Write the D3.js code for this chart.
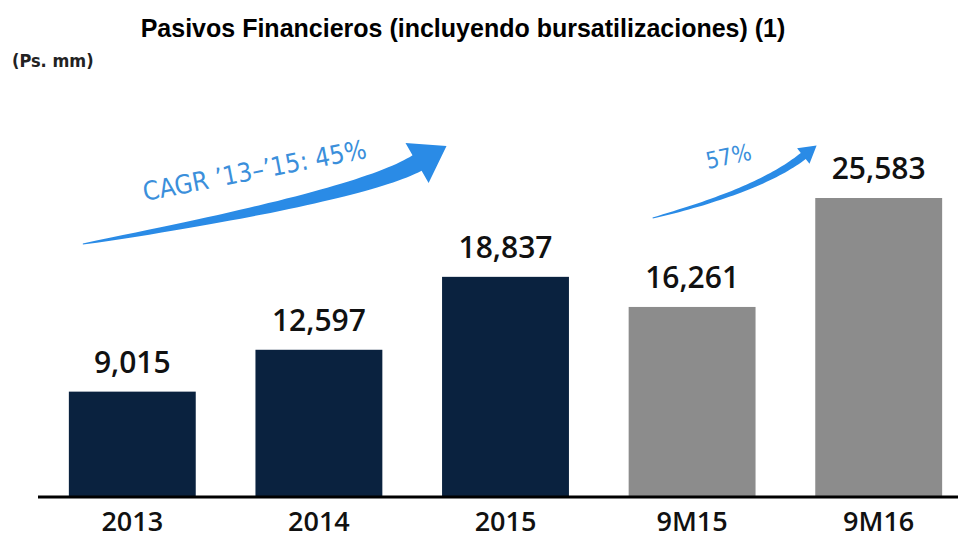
<!DOCTYPE html>
<html lang="es">
<head>
<meta charset="UTF-8">
<title>Pasivos Financieros</title>
<script src="https://d3js.org/d3.v7.min.js"></script>
<style>
    body { margin: 0; background: #fff; }
    svg { display: block; }
</style>
</head>
<body>
<div id="chart"></div>
<script>
// chart data
const categories = ["2013", "2014", "2015", "9M15", "9M16"];
const values = [9015, 12597, 18837, 16261, 25583];
const barColors = ["#0a223f", "#0a223f", "#0a223f", "#8c8c8c", "#8c8c8c"];
const growthLabels = ["CAGR \u201913\u2013\u201915: 45%", "57%"];

const width = 958;
const height = 539;
const baseY = 497;
const condensed = "'DejaVu Sans Condensed', 'DejaVu Sans', sans-serif";
const humanist = "'Open Sans', 'DejaVu Sans Condensed', sans-serif";

const svg = d3.select("#chart")
    .append("svg")
    .attr("width", width)
    .attr("height", height);

const x = d3.scaleBand()
    .domain(categories)
    .range([39, 972])
    .paddingInner(0.32)
    .paddingOuter(0.16);

const y = d3.scaleLinear()
    .domain([0, 25583])
    .range([baseY, 198]);

// title + unit
svg.append("text")
    .attr("x", 463)
    .attr("y", 37)
    .attr("text-anchor", "middle")
    .attr("font-family", "'Liberation Sans', Arial, sans-serif")
    .attr("font-weight", "bold")
    .attr("font-size", 25)
    .attr("fill", "#000")
    .text("Pasivos Financieros (incluyendo bursatilizaciones) (1)");

svg.append("text")
    .attr("x", 12)
    .attr("y", 67)
    .attr("font-family", condensed)
    .attr("font-weight", "bold")
    .attr("font-size", 18)
    .attr("fill", "#222")
    .text("(Ps. mm)");

// bars
svg.append("g")
    .selectAll("rect")
    .data(values)
    .join("rect")
    .attr("x", (d, i) => x(categories[i]))
    .attr("y", d => y(d))
    .attr("width", x.bandwidth())
    .attr("height", d => y(0) - y(d))
    .attr("fill", (d, i) => barColors[i]);

// value labels
svg.append("g")
    .selectAll("text")
    .data(values)
    .join("text")
    .attr("x", (d, i) => x(categories[i]) + x.bandwidth() / 2)
    .attr("y", d => y(d) - 19)
    .attr("text-anchor", "middle")
    .attr("font-family", humanist)
    .attr("font-weight", 600)
    .attr("font-size", 30)
    .attr("fill", "#111")
    .text(d => d3.format(",")(d));

// x axis
const xAxis = svg.append("g")
    .attr("transform", `translate(0,${baseY})`)
    .call(d3.axisBottom(x).tickSize(0).tickPadding(0));

xAxis.select(".domain")
    .attr("d", `M38,0H${width}`)
    .attr("stroke", "#000")
    .attr("stroke-width", 3);

xAxis.selectAll("text")
    .attr("font-family", humanist)
    .attr("font-weight", 600)
    .attr("font-size", 27)
    .attr("fill", "#111")
    .attr("dy", 34);

// tapered curved arrow: quadratic centreline, width grows toward the head
function arrowPath(p0, c, p1, w0, w1, headW, headL) {
    const n = 40;
    const left = [], right = [];
    for (let i = 0; i <= n; i++) {
        const t = i / n;
        const px = (1 - t) * (1 - t) * p0[0] + 2 * (1 - t) * t * c[0] + t * t * p1[0];
        const py = (1 - t) * (1 - t) * p0[1] + 2 * (1 - t) * t * c[1] + t * t * p1[1];
        const dx = 2 * (1 - t) * (c[0] - p0[0]) + 2 * t * (p1[0] - c[0]);
        const dy = 2 * (1 - t) * (c[1] - p0[1]) + 2 * t * (p1[1] - c[1]);
        const len = Math.hypot(dx, dy);
        const nx = -dy / len, ny = dx / len;
        const w = (w0 + (w1 - w0) * Math.pow(t, 0.7)) / 2;
        left.push([px + nx * w, py + ny * w]);
        right.push([px - nx * w, py - ny * w]);
    }
    const dx = p1[0] - c[0], dy = p1[1] - c[1];
    const len = Math.hypot(dx, dy);
    const ux = dx / len, uy = dy / len;
    const nx = -uy, ny = ux;
    const tip = [p1[0] + ux * headL, p1[1] + uy * headL];
    const h1 = [p1[0] + nx * headW / 2, p1[1] + ny * headW / 2];
    const h2 = [p1[0] - nx * headW / 2, p1[1] - ny * headW / 2];
    const pts = left.concat([h1, tip, h2]).concat(right.reverse());
    return "M" + pts.map(p => p[0].toFixed(1) + "," + p[1].toFixed(1)).join("L") + "Z";
}

const x13 = x("2013"), x15 = x("2015"), x9m15 = x("9M15"), x9m16 = x("9M16");

const arrows = [
    { p0: [x13 + 14, 244], c: [x15 - 82, 196], p1: [x15 - 25, 163], w0: 1, w1: 18, headW: 46, headL: 34 },
    { p0: [x9m15 + 24, 218], c: [x9m16 - 55, 190], p1: [x9m16 - 12, 156], w0: 1, w1: 8, headW: 20, headL: 17 }
];

svg.append("g")
    .selectAll("path")
    .data(arrows)
    .join("path")
    .attr("d", a => arrowPath(a.p0, a.c, a.p1, a.w0, a.w1, a.headW, a.headL))
    .attr("fill", "#2a8be6");

const growthPos = [
    { x: x13 + 76, y: 201, angle: -11, size: 26 },
    { x: x9m15 + 79, y: 169, angle: -12, size: 23 }
];

svg.append("g")
    .selectAll("text")
    .data(growthLabels)
    .join("text")
    .attr("transform", (d, i) => `translate(${growthPos[i].x},${growthPos[i].y}) rotate(${growthPos[i].angle})`)
    .attr("font-family", condensed)
    .attr("font-size", (d, i) => growthPos[i].size)
    .attr("fill", "#3b8fdb")
    .text(d => d);
</script>
</body>
</html>
